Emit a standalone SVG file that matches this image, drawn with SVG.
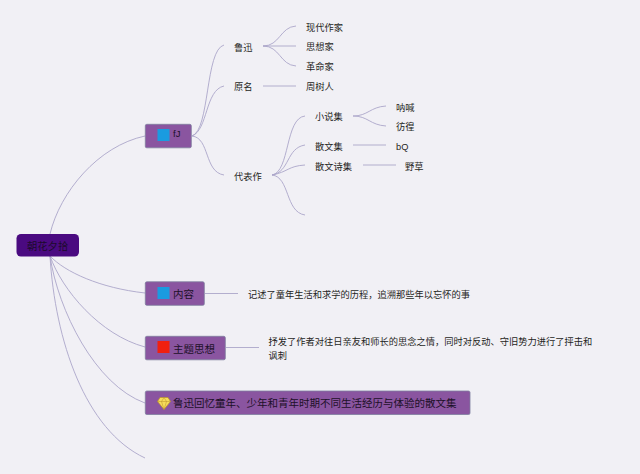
<svg xmlns="http://www.w3.org/2000/svg" width="640" height="474" viewBox="0 0 640 474">
<style>
text{font-family:"Liberation Sans","Noto Sans CJK SC",sans-serif;fill:#1f1f23;font-size:9.25px}
.n{font-size:10.5px;fill:#1c1028}
.b{fill:#8a55a0;stroke:#7d7f9e;stroke-width:.8}
.c path{fill:none;stroke:#aca6ca;stroke-width:.9}
</style>
<rect width="640" height="474" fill="#f1f0f5"/>
<g class="c" id="connectors">
<path d="M50 234C60 192 98 146 145 136"/>
<path d="M50 256C65 272 100 288 145 293"/>
<path d="M50 256C62 290 100 335 145 347"/>
<path d="M50 256C58 310 95 385 145 403"/>
<path d="M50 256C55 340 85 430 145 458"/>
<path d="M192 136C210 130 205 50 224 45"/>
<path d="M192 136C208 130 205 90 224 86"/>
<path d="M192 136C210 138 204 172 224 175"/>
<path d="M263 46C280 46 280 27 296 26"/>
<path d="M263 46H296"/>
<path d="M263 46C280 46 280 65 296 66"/>
<path d="M263 86H296"/>
<path d="M272 175C290 172 285 118 305 116"/>
<path d="M272 175C290 172 286 148 305 145"/>
<path d="M272 175C288 172 288 166 305 165"/>
<path d="M272 175C290 177 285 212 305 215"/>
<path d="M353 116C368 116 370 107 386 106"/>
<path d="M353 116C368 116 370 125 386 126"/>
<path d="M353 145H386"/>
<path d="M363 165H396"/>
<path d="M205 293.500H238"/>
<path d="M226 347.500H259"/>
</g>
<g id="root"><rect x="16.500" y="234" width="62.500" height="22.500" rx="4.500" fill="#4a0a80"/><text x="27" y="249.500" class="n" style="font-size:10.300px;fill:#1c0a2c">朝花夕拾</text></g>
<g id="node-1"><rect class="b" x="145.300" y="124.300" width="46" height="23.500" rx="1.500"/><rect x="157.500" y="129" width="12" height="12" fill="#1a9be0"/><text x="173" y="137" class="n" style="font-size:9.500px">fJ</text></g>
<g id="node-content"><rect class="b" x="145.300" y="281.800" width="59" height="23.500" rx="1.500"/><rect x="157.500" y="287" width="12" height="12" fill="#1a9be0"/><text x="173" y="298" class="n">内容</text></g>
<g id="node-theme"><rect class="b" x="145.300" y="336.300" width="80" height="23.500" rx="1.500"/><rect x="157.500" y="341" width="12" height="12" fill="#f02010"/><text x="173" y="352.500" class="n">主题思想</text></g>
<g id="node-summary"><rect class="b" x="145.300" y="391" width="324.700" height="23.500" rx="1.500"/><path d="M160 397.500H168L170.500 401.500L164 409.500L157.500 401.500Z" fill="#f6dc5a" stroke="#b8902a" stroke-width=".7"/><path d="M157.500 401.500H170.500M161.500 401.500L164 409.500L166.500 401.500L164 397.500L161.500 401.500" fill="none" stroke="#b8902a" stroke-width=".5"/><text x="173" y="407" class="n">鲁迅回忆童年、少年和青年时期不同生活经历与体验的散文集</text></g>
<g id="t-luxun"><text x="234" y="50.500">鲁迅</text></g>
<g id="t-writer"><text x="306" y="30.500">现代作家</text></g>
<g id="t-thinker"><text x="306" y="50">思想家</text></g>
<g id="t-rev"><text x="306" y="69.500">革命家</text></g>
<g id="t-name"><text x="234" y="90">原名</text></g>
<g id="t-zhou"><text x="306" y="90">周树人</text></g>
<g id="t-works"><text x="234" y="179.500">代表作</text></g>
<g id="t-novel"><text x="315" y="120">小说集</text></g>
<g id="t-nahan"><text x="396" y="110.500">呐喊</text></g>
<g id="t-panghuang"><text x="396" y="130">彷徨</text></g>
<g id="t-essay"><text x="315" y="149.500">散文集</text></g>
<g id="t-bq"><text x="396" y="149.500">bQ</text></g>
<g id="t-poem"><text x="315" y="169.500">散文诗集</text></g>
<g id="t-yecao"><text x="405" y="169.500">野草</text></g>
<g id="t-desc"><text x="248" y="298">记述了童年生活和求学的历程，追溯那些年以忘怀的事</text></g>
<g id="t-theme"><text x="268.500" y="345">抒发了作者对往日亲友和师长的思念之情，同时对反动、守旧势力进行了抨击和</text><text x="268.500" y="359">讽刺</text></g>
</svg>
